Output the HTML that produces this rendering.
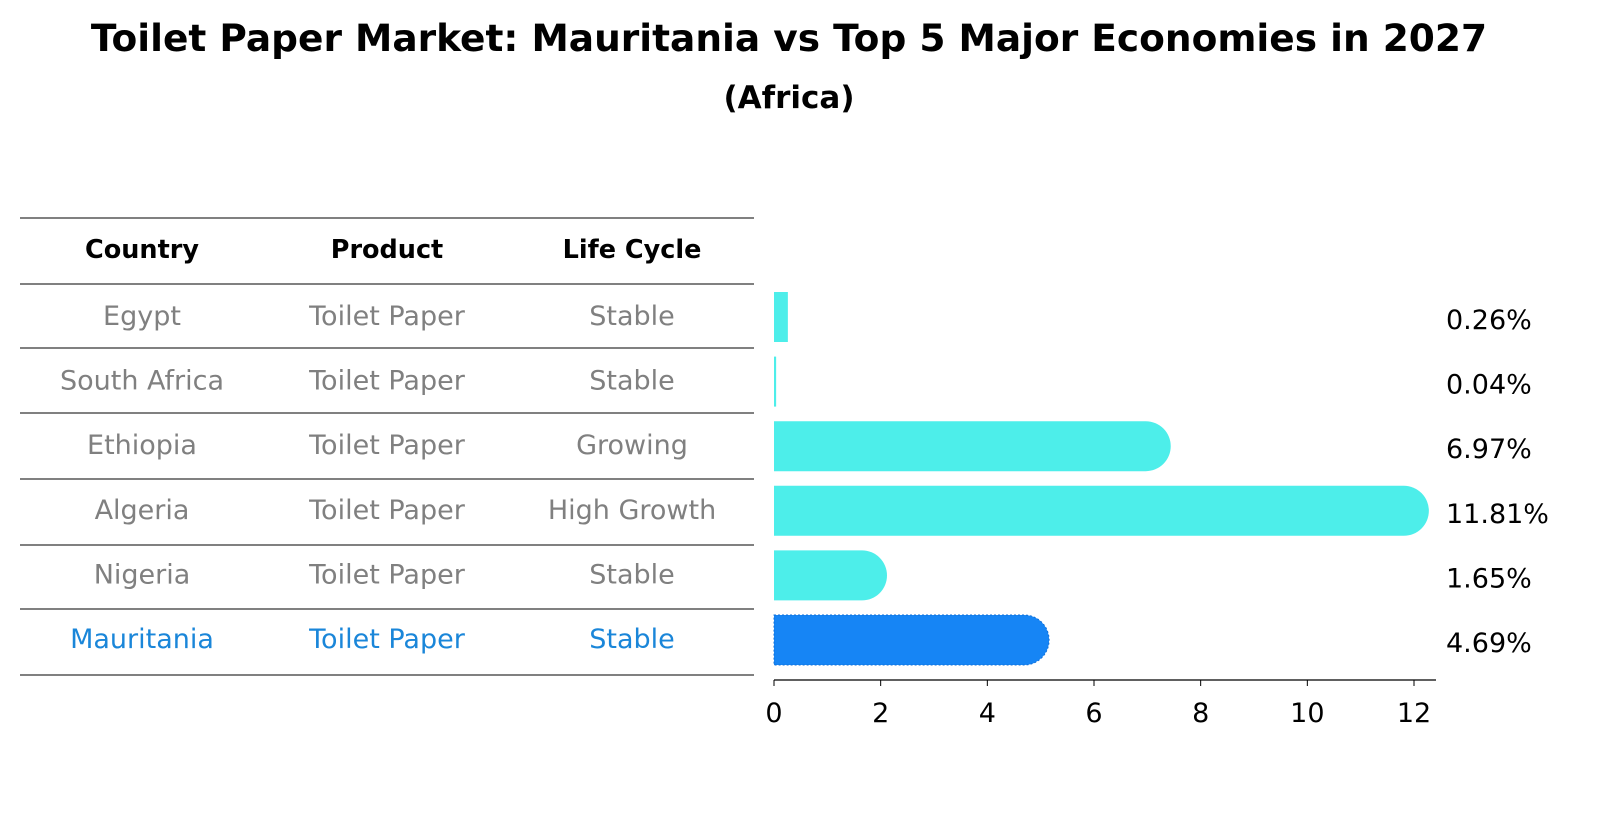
<!DOCTYPE html>
<html><head><meta charset="utf-8"><style>
body{margin:0;background:#fff;width:1604px;height:823px;overflow:hidden;font-family:"Liberation Sans","DejaVu Sans",sans-serif}
svg text{font-family:"DejaVu Sans","Liberation Sans",sans-serif}
</style></head><body>
<svg width="1604" height="823">
<text x="789" y="51" text-anchor="middle" font-size="37.5" font-weight="bold">Toilet Paper Market: Mauritania vs Top 5 Major Economies in 2027</text>
<text x="789" y="108" text-anchor="middle" font-size="31" font-weight="bold">(Africa)</text>
<g id="table"></g>
<g id="bars"></g>
</svg>
<script>
const countries=["Egypt","South Africa","Ethiopia","Algeria","Nigeria","Mauritania"];
const products=["Toilet Paper","Toilet Paper","Toilet Paper","Toilet Paper","Toilet Paper","Toilet Paper"];
const lifeCycles=["Stable","Stable","Growing","High Growth","Stable","Stable"];
const values=[0.26,0.04,6.97,11.81,1.65,4.69];
const valueLabels=["0.26%","0.04%","6.97%","11.81%","1.65%","4.69%"];
const ticks=[0,2,4,6,8,10,12];
const NS="http://www.w3.org/2000/svg";
function mk(p,t,a){const e=document.createElementNS(NS,t);for(const k in a)e.setAttribute(k,a[k]);p.appendChild(e);return e;}
const x=v=>774+v*(640/12);
const rowY=i=>316+i*64.6;
const tbl=document.getElementById('table');
const lineYs=[218,284,348,413,479,545,609,675];
lineYs.forEach(y=>{const l=mk(tbl,'line',{x1:20,x2:754,y1:y,y2:y,stroke:'#000','stroke-width':1});

});
const colX=[142,387,632];
["Country","Product","Life Cycle"].forEach((h,j)=>{const t=mk(tbl,'text',{x:colX[j],y:258,'text-anchor':'middle','font-size':25.5,'font-weight':'bold'});t.textContent=h;

});
countries.forEach((c,i)=>{const col=i===5?'#1a86d9':'#808080';
[c,products[i],lifeCycles[i]].forEach((s,j)=>{const t=mk(tbl,'text',{x:colX[j],y:rowY(i)+9,'text-anchor':'middle','font-size':27,fill:col});t.textContent=s;

});});
const g=document.getElementById('bars');
const h=50;
values.forEach((v,i)=>{const cy=rowY(i)+1;const col=i===5?'#1685f5':'#4deeea';
const r=v>1?h/2:0;
let d;
if(r){d=`M${x(0)},${cy-h/2} H${x(v)} A${r},${r} 0 0 1 ${x(v)},${cy+h/2} H${x(0)} Z`;}
else d=`M${x(0)},${cy-h/2} H${x(v)} V${cy+h/2} H${x(0)} Z`;
const p=mk(g,'path',{d:d,fill:col});
if(i===5){p.setAttribute('stroke','#0f6fd8');p.setAttribute('stroke-dasharray','2,2');}


const t=mk(g,'text',{x:1446,y:cy+12,'font-size':27});t.textContent=valueLabels[i];

});
const ax=mk(g,'line',{x1:774,x2:1436,y1:680,y2:680,stroke:'#000','stroke-width':1.2});


ticks.forEach(tv=>{const tl=mk(g,'line',{x1:x(tv),x2:x(tv),y1:680,y2:686,stroke:'#000'});


const t=mk(g,'text',{x:x(tv),y:722,'text-anchor':'middle','font-size':27});t.textContent=tv;

});
</script>
</body></html>
